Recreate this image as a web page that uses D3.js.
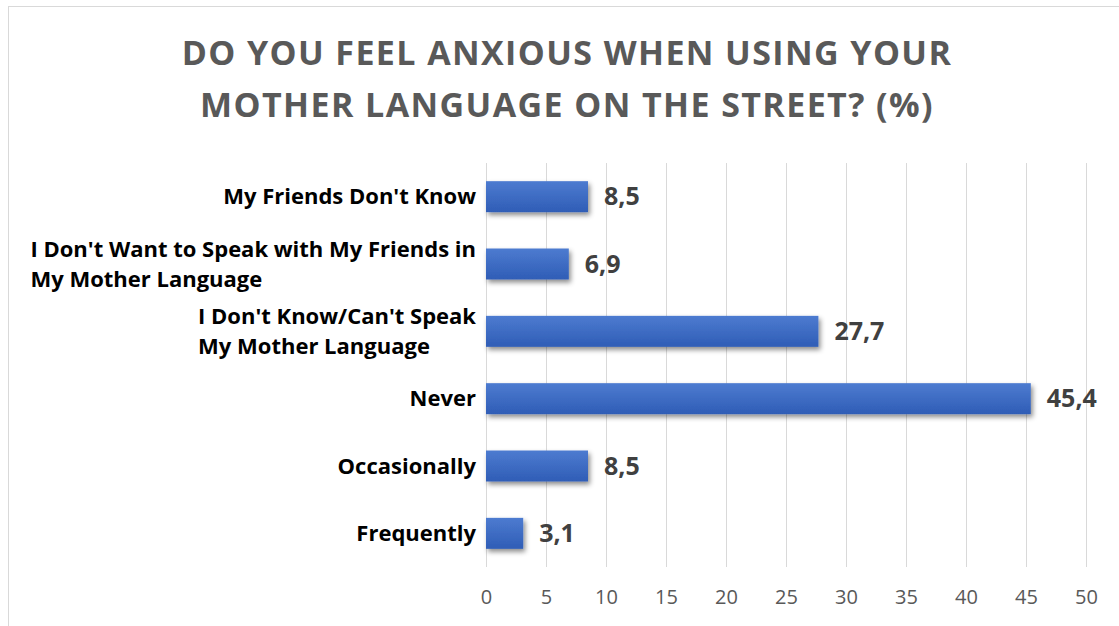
<!DOCTYPE html>
<meta charset="utf-8">
<style>
body { margin: 0; background: #fff; }
svg { font-family: "Open Sans", Lato, sans-serif; }
.grid line { stroke: #d9d9d9; stroke-width: 1; }
.axis--x path, .axis--x line { display: none; }
.axis--x text { fill: #595959; font-size: 20px; }
.title { fill: #595959; font-size: 34px; font-weight: bold; letter-spacing: 1.4px; }
.cat { fill: #000; font-size: 22px; font-weight: bold; }
.val { fill: #404040; font-size: 25px; font-weight: bold; }
</style>
<svg width="1119" height="626"></svg>
<script src="https://d3js.org/d3.v7.min.js"></script>
<script>

// data, top to bottom
var categories = [
  ["My Friends Don't Know"],
  ["I Don't Want to Speak with My Friends in", "My Mother Language"],
  ["I Don't Know/Can't Speak", "My Mother Language"],
  ["Never"],
  ["Occasionally"],
  ["Frequently"]
];
var values = [8.5, 6.9, 27.7, 45.4, 8.5, 3.1];
var valueLabels = ["8,5", "6,9", "27,7", "45,4", "8,5", "3,1"];
var ticks = [0, 5, 10, 15, 20, 25, 30, 35, 40, 45, 50];
var titleLines = ["DO YOU FEEL ANXIOUS WHEN USING YOUR", "MOTHER LANGUAGE ON THE STREET? (%)"];

var svg = d3.select("svg"),
    plot = {left: 486, right: 1086, top: 163, bottom: 567};

// chart frame
svg.append("rect")
    .attr("x", 8.5).attr("y", 6.5)
    .attr("width", 1130).attr("height", 640)
    .attr("fill", "#fff")
    .attr("stroke", "#d9d9d9");

var defs = svg.append("defs");
var grad = defs.append("linearGradient")
    .attr("id", "barGrad")
    .attr("x1", 0).attr("y1", 0).attr("x2", 0).attr("y2", 1);
grad.append("stop").attr("offset", "0%").attr("stop-color", "#4d7bd0");
grad.append("stop").attr("offset", "100%").attr("stop-color", "#2f5db6");

var shadow = defs.append("filter").attr("id", "shadow")
    .attr("x", "-10%").attr("y", "-20%").attr("width", "130%").attr("height", "160%");
shadow.append("feDropShadow")
    .attr("dx", 2).attr("dy", 3).attr("stdDeviation", 2.5)
    .attr("flood-color", "#000").attr("flood-opacity", 0.45);

var x = d3.scaleLinear().domain([0, 50]).range([plot.left, plot.right]);
var y = d3.scaleBand()
    .domain(d3.range(categories.length))
    .range([plot.top, plot.bottom])
    .paddingInner(0.54).paddingOuter(0.27);

// title
svg.append("text")
    .attr("class", "title")
    .attr("text-anchor", "middle")
    .selectAll("tspan")
    .data(titleLines)
    .enter().append("tspan")
      .attr("x", 567)
      .attr("y", function(d, i) { return 65 + i * 52; })
      .text(function(d) { return d; });

// gridlines
svg.append("g")
    .attr("class", "grid")
  .selectAll("line")
  .data(ticks)
  .enter().append("line")
    .attr("x1", function(d) { return Math.round(x(d)) + 0.5; })
    .attr("x2", function(d) { return Math.round(x(d)) + 0.5; })
    .attr("y1", plot.top)
    .attr("y2", plot.bottom);

svg.append("g")
    .attr("class", "axis axis--x")
    .attr("transform", "translate(0," + (plot.bottom + 19) + ")")
    .call(d3.axisBottom(x).tickValues(ticks).tickSize(0).tickPadding(4).tickFormat(d3.format("d")));
svg.select(".axis--x").attr("font-family", null).attr("font-size", null);

// bars
svg.append("g")
  .selectAll("rect")
  .data(values)
  .enter().append("rect")
    .attr("x", x(0))
    .attr("y", function(d, i) { return y(i); })
    .attr("width", function(d) { return x(d) - x(0); })
    .attr("height", y.bandwidth())
    .attr("fill", "url(#barGrad)")
    .attr("filter", "url(#shadow)");

// value labels
svg.append("g")
  .selectAll("text")
  .data(values)
  .enter().append("text")
    .attr("class", "val")
    .attr("x", function(d) { return x(d) + 16; })
    .attr("y", function(d, i) { return y(i) + y.bandwidth() / 2; })
    .attr("dy", "0.35em")
    .text(function(d, i) { return valueLabels[i]; });

// category labels: lines left aligned inside a right aligned block
var lineH = 30;
var cats = svg.append("g")
  .selectAll("text")
  .data(categories)
  .enter().append("text")
    .attr("class", "cat");

cats.each(function(lines, i) {
  var t = d3.select(this);
  var cy = y(i) + y.bandwidth() / 2;
  lines.forEach(function(l, j) {
    t.append("tspan")
      .attr("y", cy + (j - (lines.length - 1) / 2) * lineH)
      .attr("dy", "0.35em")
      .text(l);
  });
  var w = d3.max(t.selectAll("tspan").nodes(), function(n) { return n.getComputedTextLength(); });
  t.selectAll("tspan").attr("x", 476 - w);
});

</script>
